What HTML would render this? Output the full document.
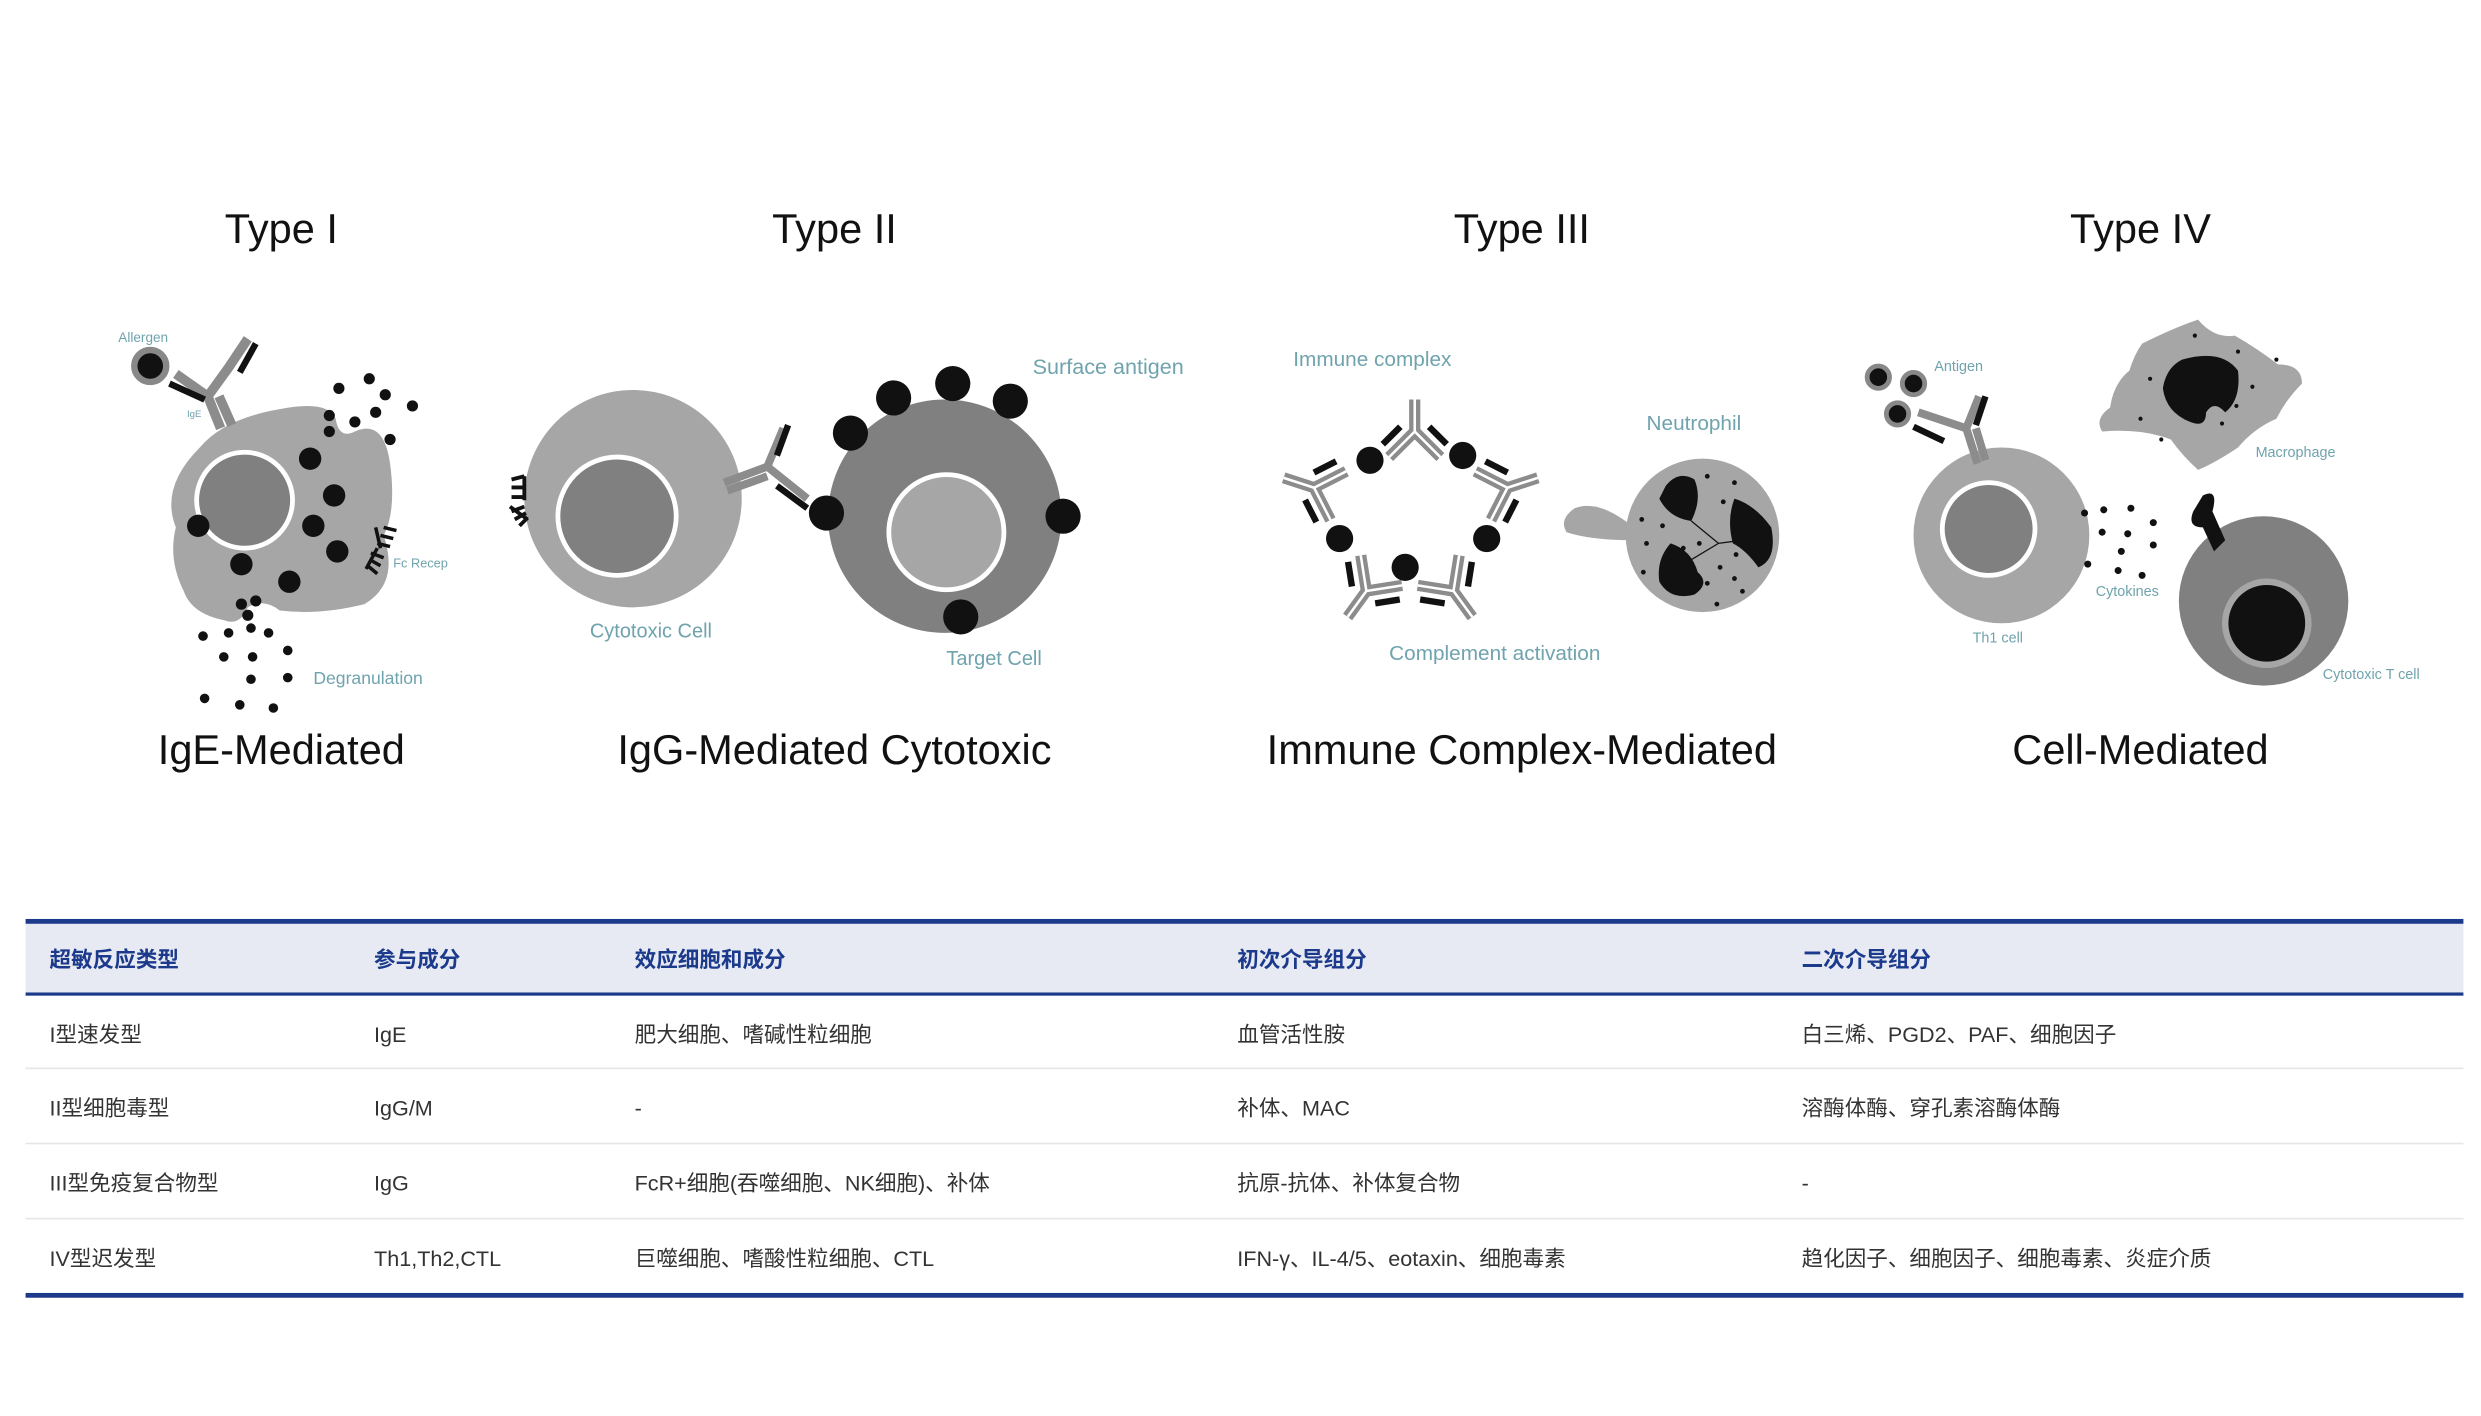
<!DOCTYPE html>
<html><head><meta charset="utf-8"><style>
html,body{margin:0;padding:0;background:#fff;}
svg{display:block}
.t{font-family:"Liberation Sans",sans-serif;fill:#111}
.lb{font-family:"Liberation Sans",sans-serif;fill:#6fa3ad}
.th{font-family:"Liberation Sans","Noto Sans CJK SC",sans-serif;fill:#1b3a8c;font-weight:bold;font-size:13.5px}
.td{font-family:"Liberation Sans","Noto Sans CJK SC",sans-serif;fill:#333;font-size:13.5px}
</style></head><body>
<svg width="2481" height="1416" viewBox="0 0 1552 886" preserveAspectRatio="none" xmlns="http://www.w3.org/2000/svg">
<defs>
<g id="ab">
<path d="M0,0 L0,-20 L-16,-36 M0,-20 L16,-36" fill="none" stroke="#8c8c8c" stroke-width="7" stroke-linejoin="miter"/>
<path d="M0,0 L0,-20 L-16,-36 M0,-20 L16,-36" fill="none" stroke="#fff" stroke-width="1.6"/>
<path d="M-9,-17 L-20,-28 M9,-17 L20,-28" stroke="#111" stroke-width="4"/>
</g>
</defs>
<rect width="1552" height="886" fill="#fff"/>

<g class="t" font-size="26" text-anchor="middle">
<text x="176" y="152">Type I</text>
<text x="522" y="152">Type II</text>
<text x="952" y="152">Type III</text>
<text x="1339" y="152">Type IV</text>
<text x="176" y="478">IgE-Mediated</text>
<text x="522" y="478">IgG-Mediated Cytotoxic</text>
<text x="952" y="478">Immune Complex-Mediated</text>
<text x="1339" y="478">Cell-Mediated</text>
</g>

<path d="M125,280 Q140,262 175,256 Q205,250 210,262 Q212,275 222,270 Q240,262 244,290 Q248,320 240,335 Q250,365 228,378 Q200,385 175,382 Q165,374 155,380 Q150,392 140,388 Q120,384 115,370 Q105,350 110,330 Q100,305 125,280 Z" fill="#a6a6a6"/>
<circle cx="153" cy="313" r="30" fill="#808080" stroke="#fff" stroke-width="3"/>
<g fill="#111">
<circle cx="194" cy="287" r="7"/><circle cx="209" cy="310" r="7"/><circle cx="196" cy="329" r="7"/><circle cx="211" cy="345" r="7"/>
<circle cx="124" cy="329" r="7"/><circle cx="151" cy="353" r="7"/><circle cx="181" cy="364" r="7"/>
<circle cx="212" cy="243" r="3.5"/><circle cx="231" cy="237" r="3.5"/><circle cx="241" cy="247" r="3.5"/><circle cx="258" cy="254" r="3.5"/>
<circle cx="206" cy="260" r="3.5"/><circle cx="222" cy="264" r="3.5"/><circle cx="235" cy="258" r="3.5"/><circle cx="244" cy="275" r="3.5"/><circle cx="206" cy="270" r="3.5"/>
<circle cx="151" cy="378" r="3.5"/><circle cx="160" cy="376" r="3.5"/><circle cx="155" cy="385" r="3.5"/>
<circle cx="127" cy="398" r="3"/><circle cx="143" cy="396" r="3"/><circle cx="157" cy="393" r="3"/><circle cx="168" cy="396" r="3"/>
<circle cx="140" cy="411" r="3"/><circle cx="158" cy="411" r="3"/><circle cx="180" cy="407" r="3"/><circle cx="157" cy="425" r="3"/><circle cx="180" cy="424" r="3"/>
<circle cx="128" cy="437" r="3"/><circle cx="150" cy="441" r="3"/><circle cx="171" cy="443" r="3"/>
</g>
<circle cx="94" cy="229" r="10" fill="#111" stroke="#888" stroke-width="4"/>
<path d="M138,268 L130,248 L110,234 M130,248 L143,230 L155,212 M145,266 L137,248" fill="none" stroke="#8c8c8c" stroke-width="6"/>
<path d="M106,240 L128,250 M150,233 L160,215" stroke="#111" stroke-width="4"/>
<path d="M240,330 l8,2 M238,335 l8,2 M236,340 l8,2 M235,330 l3,13 M232,346 l8,3 M231,350 l7,4 M230,354 l6,5 M236,343 l-7,13" stroke="#111" stroke-width="2.2"/>
<text class="lb" x="74" y="214" font-size="8.5">Allergen</text>
<text class="lb" x="117" y="261" font-size="6">IgE</text>
<text class="lb" x="246" y="355" font-size="8">Fc Recep</text>
<text class="lb" x="196" y="428" font-size="11">Degranulation</text>

<circle cx="396" cy="312" r="68" fill="#a6a6a6"/>
<circle cx="386" cy="323" r="37" fill="#808080" stroke="#fff" stroke-width="3"/>
<path d="M320,300 l8,-2 M320,305 l8,0 M320,311 l8,0 M328,298 l0,15 M320,320 l8,-3 M322,325 l7,-4 M325,329 l5,-5 M319,317 l11,8" stroke="#111" stroke-width="2.4"/>
<circle cx="591" cy="323" r="73" fill="#808080"/>
<circle cx="592" cy="333" r="36" fill="#a6a6a6" stroke="#fff" stroke-width="3"/>
<g fill="#111">
<circle cx="532" cy="271" r="11"/><circle cx="559" cy="249" r="11"/><circle cx="596" cy="240" r="11"/><circle cx="632" cy="251" r="11"/>
<circle cx="517" cy="321" r="11"/><circle cx="665" cy="323" r="11"/><circle cx="601" cy="386" r="11"/>
</g>
<path d="M453,302 L480,292 L505,312 M480,292 L490,268 M455,307 L480,298" fill="none" stroke="#8c8c8c" stroke-width="5"/>
<path d="M486,304 L505,318 M486,285 L493,266" stroke="#111" stroke-width="4"/>
<text class="lb" x="369" y="399" font-size="12.5">Cytotoxic Cell</text>
<text class="lb" x="592" y="416" font-size="12.5">Target Cell</text>
<text class="lb" x="646" y="234" font-size="13.5">Surface antigen</text>

<use href="#ab" transform="translate(885,250) rotate(180)"/>
<use href="#ab" transform="translate(962,299) rotate(-108)"/>
<use href="#ab" transform="translate(921,386) rotate(-36)"/>
<use href="#ab" transform="translate(843,386) rotate(36)"/>
<use href="#ab" transform="translate(803,299) rotate(108)"/>
<g fill="#111">
<circle cx="857" cy="288" r="8.5"/><circle cx="915" cy="285" r="8.5"/><circle cx="838" cy="337" r="8.5"/><circle cx="930" cy="337" r="8.5"/><circle cx="879" cy="355" r="8.5"/>
</g>
<path d="M1022,330 Q1000,312 985,318 Q975,325 980,333 Q995,338 1022,338 Z" fill="#a6a6a6"/>
<circle cx="1065" cy="335" r="48" fill="#a6a6a6"/>
<path d="M1042,304 Q1050,294 1060,300 Q1065,312 1058,326 Q1044,324 1038,312 Z M1085,312 Q1098,316 1108,330 Q1112,350 1100,355 Q1092,344 1084,340 Q1080,325 1085,312 Z M1045,340 Q1058,344 1062,358 Q1070,365 1060,372 Q1045,376 1038,364 Q1036,350 1045,340 Z" fill="#111"/>
<path d="M1058,326 L1075,340 L1090,338 M1075,340 L1055,352" stroke="#111" stroke-width="0.8" fill="none"/>
<g fill="#111">
<circle cx="1068" cy="298" r="1.5"/><circle cx="1085" cy="302" r="1.5"/><circle cx="1078" cy="314" r="1.5"/><circle cx="1027" cy="325" r="1.5"/><circle cx="1040" cy="329" r="1.5"/><circle cx="1030" cy="340" r="1.5"/><circle cx="1053" cy="343" r="1.5"/><circle cx="1063" cy="340" r="1.5"/><circle cx="1086" cy="347" r="1.5"/><circle cx="1076" cy="355" r="1.5"/><circle cx="1068" cy="365" r="1.5"/><circle cx="1085" cy="362" r="1.5"/><circle cx="1090" cy="370" r="1.5"/><circle cx="1074" cy="378" r="1.5"/><circle cx="1028" cy="358" r="1.5"/>
</g>
<text class="lb" x="809" y="229" font-size="13">Immune complex</text>
<text class="lb" x="1030" y="269" font-size="13">Neutrophil</text>
<text class="lb" x="869" y="413" font-size="13">Complement activation</text>

<path d="M1340,215 Q1360,205 1375,200 Q1385,212 1398,210 Q1412,218 1425,228 Q1440,228 1440,240 Q1430,250 1424,262 Q1410,268 1400,280 Q1385,290 1375,294 Q1365,285 1358,275 Q1340,268 1315,270 Q1310,262 1320,255 Q1322,240 1332,232 Q1335,222 1340,215 Z" fill="#a6a6a6"/>
<path d="M1365,225 Q1390,218 1400,232 Q1402,250 1392,258 Q1385,250 1380,258 Q1380,268 1370,264 Q1355,258 1353,243 Q1355,230 1365,225 Z" fill="#111"/>
<g fill="#111"><circle cx="1373" cy="210" r="1.3"/><circle cx="1400" cy="220" r="1.3"/><circle cx="1345" cy="237" r="1.3"/><circle cx="1409" cy="242" r="1.3"/><circle cx="1339" cy="262" r="1.3"/><circle cx="1399" cy="254" r="1.3"/><circle cx="1390" cy="265" r="1.3"/><circle cx="1352" cy="275" r="1.3"/><circle cx="1424" cy="225" r="1.3"/></g>
<circle cx="1252" cy="335" r="55" fill="#a6a6a6"/>
<circle cx="1244" cy="331" r="29" fill="#808080" stroke="#fff" stroke-width="3"/>
<circle cx="1416" cy="376" r="53" fill="#808080"/>
<circle cx="1418" cy="390" r="26" fill="#111" stroke="#a6a6a6" stroke-width="4"/>
<path d="M1378,310 Q1388,305 1384,320 L1392,338 L1385,345 L1378,330 Q1368,330 1372,320 Z" fill="#111"/>
<circle cx="1175" cy="236" r="7" fill="#111" stroke="#888" stroke-width="3"/>
<circle cx="1197" cy="240" r="7" fill="#111" stroke="#888" stroke-width="3"/>
<circle cx="1187" cy="259" r="7" fill="#111" stroke="#888" stroke-width="3"/>
<path d="M1237,290 L1230,268 L1200,258 M1230,268 L1238,248 M1242,288 L1236,268" fill="none" stroke="#8c8c8c" stroke-width="5"/>
<path d="M1197,267 L1216,276 M1242,248 L1236,266" stroke="#111" stroke-width="4"/>
<g fill="#111">
<circle cx="1304" cy="321" r="2.2"/><circle cx="1316" cy="319" r="2.2"/><circle cx="1333" cy="318" r="2.2"/><circle cx="1347" cy="327" r="2.2"/><circle cx="1315" cy="333" r="2.2"/><circle cx="1331" cy="334" r="2.2"/><circle cx="1347" cy="341" r="2.2"/><circle cx="1327" cy="345" r="2.2"/><circle cx="1306" cy="353" r="2.2"/><circle cx="1325" cy="357" r="2.2"/><circle cx="1340" cy="360" r="2.2"/>
</g>
<text class="lb" x="1210" y="232" font-size="9">Antigen</text>
<text class="lb" x="1411" y="286" font-size="9">Macrophage</text>
<text class="lb" x="1311" y="373" font-size="9">Cytokines</text>
<text class="lb" x="1234" y="402" font-size="9">Th1 cell</text>
<text class="lb" x="1453" y="425" font-size="9">Cytotoxic T cell</text>

<rect x="16" y="577" width="1525" height="45" fill="#e8eaf3"/>
<rect x="16" y="575" width="1525" height="3" fill="#1b3a8c"/>
<rect x="16" y="621" width="1525" height="2" fill="#1b3a8c"/>
<rect x="16" y="668" width="1525" height="1" fill="#e6e6e6"/>
<rect x="16" y="715" width="1525" height="1" fill="#e6e6e6"/>
<rect x="16" y="762" width="1525" height="1" fill="#e6e6e6"/>
<rect x="16" y="809" width="1525" height="3" fill="#1b3a8c"/>
<g class="th">
<text x="31" y="605">超敏反应类型</text><text x="234" y="605">参与成分</text><text x="397" y="605">效应细胞和成分</text><text x="774" y="605">初次介导组分</text><text x="1127" y="605">二次介导组分</text>
</g>
<g class="td">
<text x="31" y="652">I型速发型</text><text x="234" y="652">IgE</text><text x="397" y="652">肥大细胞、嗜碱性粒细胞</text><text x="774" y="652">血管活性胺</text><text x="1127" y="652">白三烯、PGD2、PAF、细胞因子</text>
<text x="31" y="698">II型细胞毒型</text><text x="234" y="698">IgG/M</text><text x="397" y="698">-</text><text x="774" y="698">补体、MAC</text><text x="1127" y="698">溶酶体酶、穿孔素溶酶体酶</text>
<text x="31" y="745">III型免疫复合物型</text><text x="234" y="745">IgG</text><text x="397" y="745">FcR+细胞(吞噬细胞、NK细胞)、补体</text><text x="774" y="745">抗原-抗体、补体复合物</text><text x="1127" y="745">-</text>
<text x="31" y="792">IV型迟发型</text><text x="234" y="792">Th1,Th2,CTL</text><text x="397" y="792">巨噬细胞、嗜酸性粒细胞、CTL</text><text x="774" y="792">IFN-γ、IL-4/5、eotaxin、细胞毒素</text><text x="1127" y="792">趋化因子、细胞因子、细胞毒素、炎症介质</text>
</g>
</svg>
</body></html>
